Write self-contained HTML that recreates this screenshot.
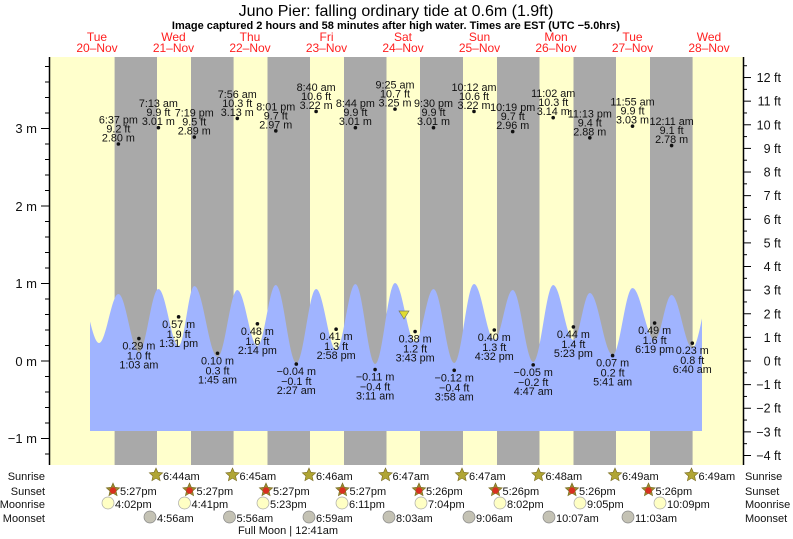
<!DOCTYPE html>
<html><head><meta charset="utf-8"><style>
html,body{margin:0;padding:0;background:#fff;}
svg{display:block;font-family:"Liberation Sans",sans-serif;}
</style></head><body>
<svg id="s" width="793" height="539" viewBox="0 0 793 539" xmlns="http://www.w3.org/2000/svg">
<rect x="50" y="57" width="693" height="408" fill="#ffffcc"/>
<g id="bands" fill="#a9a9a9"></g>
<path id="tide" fill="#a0b4ff" d=""/>
<g id="lbl" font-size="10.8" fill="#111" text-anchor="middle"></g>
<polygon points="399,311 409,311 404,319" fill="#e0dc30" stroke="#776" stroke-width="0.7"/>
<line x1="49.5" y1="57" x2="49.5" y2="465" stroke="#000" stroke-width="1.5"/>
<line x1="743.5" y1="57" x2="743.5" y2="465" stroke="#000" stroke-width="1.5"/>
<g id="ticks" stroke="#000" stroke-width="1"></g>
<g font-size="13" fill="#111" text-anchor="end">
<text x="37" y="133">3 m</text><text x="37" y="211">2 m</text><text x="37" y="288">1 m</text><text x="37" y="366">0 m</text><text x="37" y="443">−1 m</text>
</g>
<g id="ft" font-size="12.5" fill="#111" text-anchor="end"></g>
<text x="396" y="16" font-size="16" text-anchor="middle" fill="#000">Juno Pier: falling  ordinary tide at 0.6m (1.9ft)</text>
<text x="396" y="29" font-size="11" font-weight="bold" text-anchor="middle" fill="#000">Image captured 2 hours and 58 minutes after high water. Times are EST (UTC −5.0hrs)</text>
<g id="days" font-size="12" fill="#ff2020" text-anchor="middle"></g>
<g font-size="11" fill="#111" text-anchor="end">
<text x="45" y="480">Sunrise</text><text x="45" y="495">Sunset</text><text x="45" y="508">Moonrise</text><text x="45" y="522">Moonset</text>
</g>
<g font-size="11" fill="#111">
<text x="745" y="480">Sunrise</text><text x="745" y="495">Sunset</text><text x="745" y="508">Moonrise</text><text x="745" y="522">Moonset</text>
</g>
<g id="sun" font-size="11" fill="#111"></g>
<text x="288" y="534" font-size="11" fill="#111" text-anchor="middle">Full Moon | 12:41am</text>
</svg>
<script>
var NS="http://www.w3.org/2000/svg";
function el(p,t,a,txt){var e=document.createElementNS(NS,t);for(var k in a)e.setAttribute(k,a[k]);if(txt!=null)e.textContent=txt;document.getElementById(p).appendChild(e);return e;}
var bands=[[114.6,157],[191,233.6],[267.5,310],[344,386.5],[420,463],[497,539.5],[573.5,616],[650,692.6]];
bands.forEach(function(b){el("bands","rect",{x:b[0],y:57,width:b[1]-b[0],height:408});});
var ex=[[79,292],[99,343],[118.4,294],[138.9,352],[158.4,289],[178.6,346],[194.3,286],[217.5,357],[237.3,290],[257.4,346],[275.8,285],[296.3,363],[316.1,289],[336.1,350],[355.4,284],[375.1,364],[395,283],[415.1,342],[433.5,289],[454.2,363],[474,284],[494.3,340],[512.7,290],[533.2,362],[553.2,285],[573.4,340],[589.8,293],[612.6,355],[632.5,288],[654.6,340],[671.6,295],[692.3,348],[711,292]];
var d="M90,431";
for(var x=90;x<=702;x+=1){var i=0;while(ex[i+1][0]<x)i++;var a=ex[i],b=ex[i+1];var t=(x-a[0])/(b[0]-a[0]);var y=a[1]+(b[1]-a[1])*(1-Math.cos(Math.PI*t))/2;d+=" L"+x+","+y.toFixed(1);}
d+=" L702,431 Z";document.getElementById("tide").setAttribute("d",d);
var H=[[118.4,"6:37 pm","9.2 ft","2.80"],[158.4,"7:13 am","9.9 ft","3.01"],[194.3,"7:19 pm","9.5 ft","2.89"],[237.3,"7:56 am","10.3 ft","3.13"],[275.8,"8:01 pm","9.7 ft","2.97"],[316.1,"8:40 am","10.6 ft","3.22"],[355.4,"8:44 pm","9.9 ft","3.01"],[395,"9:25 am","10.7 ft","3.25"],[433.5,"9:30 pm","9.9 ft","3.01"],[474,"10:12 am","10.6 ft","3.22"],[512.7,"10:19 pm","9.7 ft","2.96"],[553.2,"11:02 am","10.3 ft","3.14"],[589.8,"11:13 pm","9.4 ft","2.88"],[632.5,"11:55 am","9.9 ft","3.03"],[671.6,"12:11 am","9.1 ft","2.78"]];
H.forEach(function(h){var y=361-77.5*parseFloat(h[3]);el("lbl","circle",{cx:h[0],cy:y,r:1.8});el("lbl","text",{x:h[0],y:y-2.5},h[3]+" m");el("lbl","text",{x:h[0],y:y-11.5},h[2]);el("lbl","text",{x:h[0],y:y-20.5},h[1]);});
var L=[[138.9,"1:03 am","1.0 ft","0.29"],[178.6,"1:31 pm","1.9 ft","0.57"],[217.5,"1:45 am","0.3 ft","0.10"],[257.4,"2:14 pm","1.6 ft","0.48"],[296.3,"2:27 am","−0.1 ft","−0.04"],[336.1,"2:58 pm","1.3 ft","0.41"],[375.1,"3:11 am","−0.4 ft","−0.11"],[415.1,"3:43 pm","1.2 ft","0.38"],[454.2,"3:58 am","−0.4 ft","−0.12"],[494.3,"4:32 pm","1.3 ft","0.40"],[533.2,"4:47 am","−0.2 ft","−0.05"],[573.4,"5:23 pm","1.4 ft","0.44"],[612.6,"5:41 am","0.2 ft","0.07"],[654.6,"6:19 pm","1.6 ft","0.49"],[692.3,"6:40 am","0.8 ft","0.23"]];
L.forEach(function(h){var v=parseFloat(h[3].replace("−","-"));var y=361-77.5*v;el("lbl","circle",{cx:h[0],cy:y,r:1.8});el("lbl","text",{x:h[0],y:y+11},h[3]+" m");el("lbl","text",{x:h[0],y:y+21},h[2]);el("lbl","text",{x:h[0],y:y+30},h[1]);});
for(var m=-1.2;m<=3.81;m+=0.2){var y=361-77.5*m;var maj=Math.abs(m-Math.round(m))<0.01;if(y<57||y>465)continue;el("ticks","line",{x1:maj?41:45,y1:y,x2:49,y2:y});}
for(var f=-4;f<=12.6;f+=0.5){var y=361-77.5*0.3048*f;if(y<57||y>465)continue;var maj=Math.abs(f-Math.round(f))<0.01;el("ticks","line",{x1:744,y1:y,x2:maj?751:747,y2:y});if(maj)el("ft","text",{x:781,y:y+4.5},(f<0?"−"+(-f):f)+" ft");}
var dn=["Tue","Wed","Thu","Fri","Sat","Sun","Mon","Tue","Wed"];
for(var i=0;i<9;i++){var x=97+76.5*i;el("days","text",{x:x,y:41},dn[i]);el("days","text",{x:x,y:52},(20+i)+"–Nov");}
function star(x,y,fill,inner){var p="";for(var k=0;k<10;k++){var r=k%2?3.3:7,a=-Math.PI/2+k*Math.PI/5;p+=(x+r*Math.cos(a)).toFixed(1)+","+(y+r*Math.sin(a)).toFixed(1)+" ";}el("sun","polygon",{points:p,fill:fill,stroke:"#776a20","stroke-width":0.6});if(inner)el("sun","circle",{cx:x,cy:y+0.5,r:3.2,fill:inner});}
var sr=["6:44am","6:45am","6:46am","6:47am","6:47am","6:48am","6:49am","6:49am"];
sr.forEach(function(s,i){var x=157+76.5*i;star(x-1,475,"#b0a534");el("sun","text",{x:x+6,y:480},s);});
var ss=["5:27pm","5:27pm","5:27pm","5:27pm","5:26pm","5:26pm","5:26pm","5:26pm"];
ss.forEach(function(s,i){var x=114+76.5*i;star(x-1,490,"#9a8a30","#d83020");el("sun","text",{x:x+6,y:495},s);});
var mr=[[110,"4:02pm"],[186.5,"4:41pm"],[265,"5:23pm"],[344,"6:11pm"],[423,"7:04pm"],[502,"8:02pm"],[582,"9:05pm"],[662,"10:09pm"]];
mr.forEach(function(m){el("sun","circle",{cx:m[0]-2,cy:503,r:6,fill:"#ffffc4",stroke:"#aaa","stroke-width":0.7});el("sun","text",{x:m[0]+5,y:508},m[1]);});
var ms=[[151,"4:56am"],[230.5,"5:56am"],[310,"6:59am"],[390,"8:03am"],[470,"9:06am"],[550,"10:07am"],[629,"11:03am"]];
ms.forEach(function(m){el("sun","circle",{cx:m[0]-1,cy:517,r:6,fill:"#c4c2b4",stroke:"#888","stroke-width":0.7});el("sun","text",{x:m[0]+6,y:522},m[1]);});
</script>
</body></html>
